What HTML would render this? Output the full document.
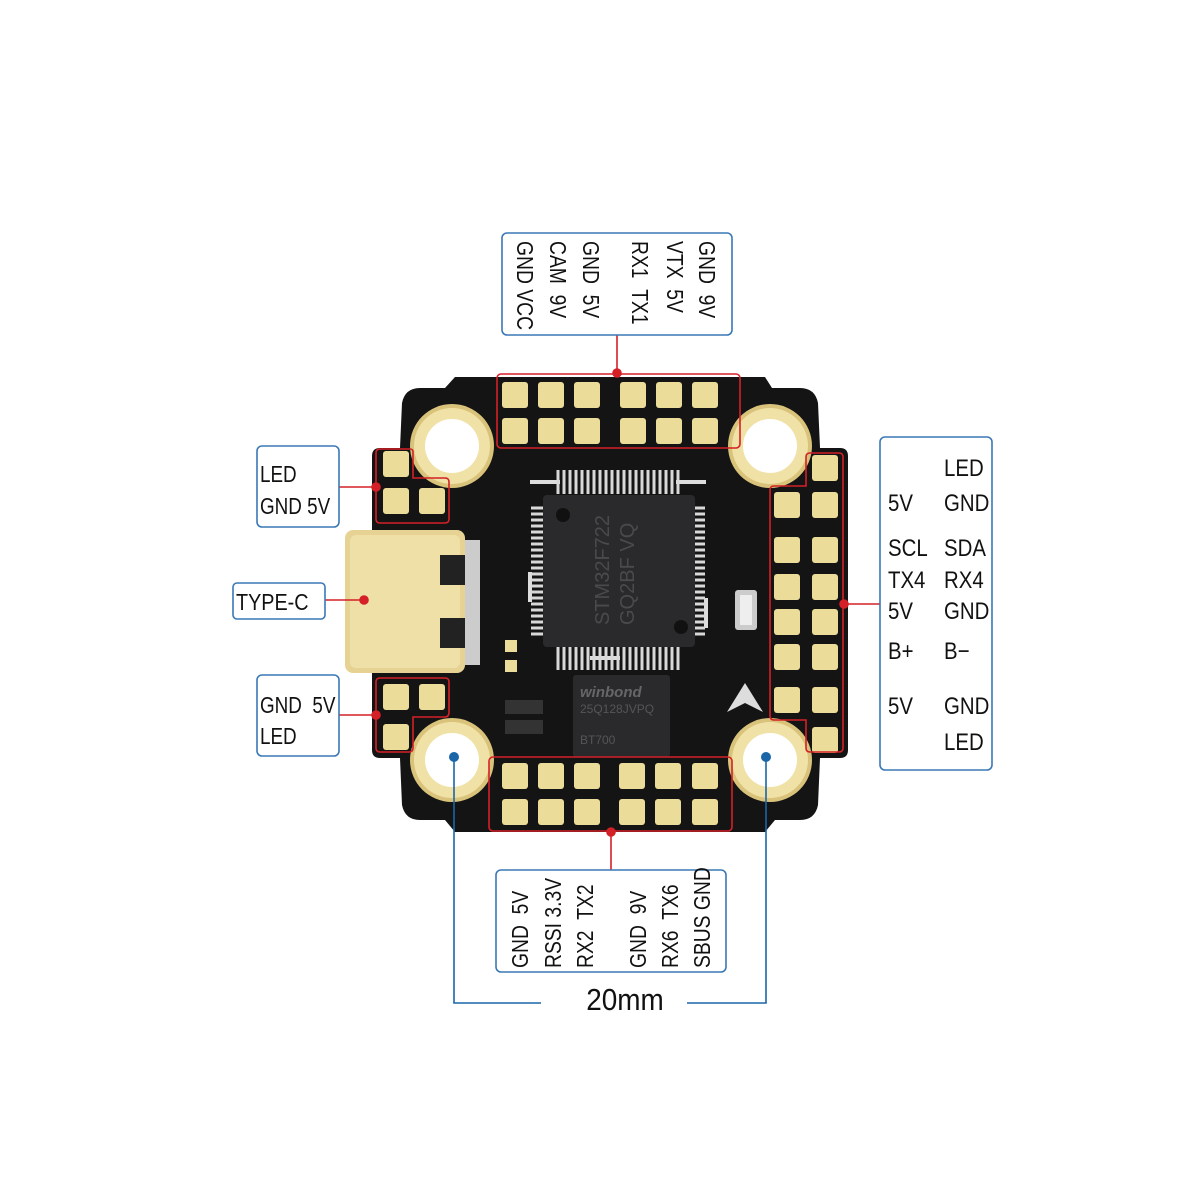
<!DOCTYPE html>
<html><head><meta charset="utf-8"><style>
html,body{margin:0;padding:0;background:#fff;}
svg{display:block}
text{font-family:"Liberation Sans",sans-serif;fill:#111;}
</style></head><body>
<svg width="1200" height="1200" viewBox="0 0 1200 1200" xmlns="http://www.w3.org/2000/svg">
<defs>
<g id="pad"><rect x="-13" y="-13" width="26" height="26" rx="3" fill="#ecdc9a"/></g>
<g id="hole"><circle r="42" fill="#d9c27a"/><circle r="38" fill="#f0e2a6"/><circle r="27" fill="#fff"/></g>
</defs>
<!-- board -->
<path d="M455 377 H765 L772 388 H800 Q815 388 818 403 L820 448 H840 Q848 448 848 456 V750 Q848 758 840 758 H820 L818 805 Q815 820 800 820 H775 L765 832 H455 L445 820 H420 Q405 820 402 805 L400 758 H380 Q372 758 372 750 V456 Q372 448 380 448 H400 L402 403 Q405 388 420 388 H445 Z" fill="#141414"/>
<use href="#hole" x="452" y="446"/><use href="#hole" x="770" y="446"/>
<use href="#hole" x="452" y="760"/><use href="#hole" x="770" y="760"/>
<!-- MCU -->
<rect x="530" y="482" width="176" height="176" fill="none" stroke="#ddd" stroke-width="4" stroke-dasharray="30 116"/>
<g stroke="#d8d8d8" stroke-width="3">
<path d="M558 470 V494 M564 470 V494 M570 470 V494 M576 470 V494 M582 470 V494 M588 470 V494 M594 470 V494 M600 470 V494 M606 470 V494 M612 470 V494 M618 470 V494 M624 470 V494 M630 470 V494 M636 470 V494 M642 470 V494 M648 470 V494 M654 470 V494 M660 470 V494 M666 470 V494 M672 470 V494 M678 470 V494"/>
<path d="M558 646 V670 M564 646 V670 M570 646 V670 M576 646 V670 M582 646 V670 M588 646 V670 M594 646 V670 M600 646 V670 M606 646 V670 M612 646 V670 M618 646 V670 M624 646 V670 M630 646 V670 M636 646 V670 M642 646 V670 M648 646 V670 M654 646 V670 M660 646 V670 M666 646 V670 M672 646 V670 M678 646 V670"/>
<path d="M531 508 H555 M531 514 H555 M531 520 H555 M531 526 H555 M531 532 H555 M531 538 H555 M531 544 H555 M531 550 H555 M531 556 H555 M531 562 H555 M531 568 H555 M531 574 H555 M531 580 H555 M531 586 H555 M531 592 H555 M531 598 H555 M531 604 H555 M531 610 H555 M531 616 H555 M531 622 H555 M531 628 H555 M531 634 H555"/>
<path d="M681 508 H705 M681 514 H705 M681 520 H705 M681 526 H705 M681 532 H705 M681 538 H705 M681 544 H705 M681 550 H705 M681 556 H705 M681 562 H705 M681 568 H705 M681 574 H705 M681 580 H705 M681 586 H705 M681 592 H705 M681 598 H705 M681 604 H705 M681 610 H705 M681 616 H705 M681 622 H705 M681 628 H705 M681 634 H705"/>
</g>
<rect x="543" y="495" width="152" height="152" rx="4" fill="#2a2a2c"/>
<circle cx="563" cy="515" r="7" fill="#111"/><circle cx="681" cy="627" r="7" fill="#111"/>
<g transform="rotate(-90 617 573)" font-size="20">
<text x="565" y="565" style="fill:#4a4a4c">STM32F722</text>
<text x="565" y="590" style="fill:#4a4a4c">GQ2BF VQ</text>
</g>
<!-- flash -->
<rect x="573" y="675" width="97" height="82" rx="3" fill="#2a2a2c"/>
<text x="580" y="697" font-size="15" font-style="italic" font-weight="bold" style="fill:#666">winbond</text>
<text x="580" y="713" font-size="12" style="fill:#555">25Q128JVPQ</text>
<text x="580" y="744" font-size="12" style="fill:#555">BT700</text>
<path d="M745 683 L727 712 L745 703 L763 712 Z" fill="#ddd"/>
<rect x="735" y="590" width="22" height="40" rx="3" fill="#ccc"/><rect x="740" y="595" width="12" height="30" fill="#eee"/>
<rect x="505" y="640" width="12" height="12" fill="#ecdc9a"/><rect x="505" y="660" width="12" height="12" fill="#ecdc9a"/>
<rect x="505" y="700" width="38" height="14" fill="#333"/><rect x="505" y="720" width="38" height="14" fill="#333"/>
<!-- USB-C -->
<rect x="455" y="540" width="25" height="125" fill="#ccc"/>
<rect x="345" y="530" width="120" height="143" rx="8" fill="#e6d393"/>
<rect x="350" y="535" width="110" height="133" rx="6" fill="#efe0a8"/>
<rect x="440" y="555" width="25" height="30" fill="#222"/><rect x="440" y="618" width="25" height="30" fill="#222"/>
<!-- pads -->
<g>
<use href="#pad" x="515" y="395"/><use href="#pad" x="551" y="395"/><use href="#pad" x="587" y="395"/><use href="#pad" x="633" y="395"/><use href="#pad" x="669" y="395"/><use href="#pad" x="705" y="395"/>
<use href="#pad" x="515" y="431"/><use href="#pad" x="551" y="431"/><use href="#pad" x="587" y="431"/><use href="#pad" x="633" y="431"/><use href="#pad" x="669" y="431"/><use href="#pad" x="705" y="431"/>
<use href="#pad" x="515" y="776"/><use href="#pad" x="551" y="776"/><use href="#pad" x="587" y="776"/><use href="#pad" x="632" y="776"/><use href="#pad" x="668" y="776"/><use href="#pad" x="705" y="776"/>
<use href="#pad" x="515" y="812"/><use href="#pad" x="551" y="812"/><use href="#pad" x="587" y="812"/><use href="#pad" x="632" y="812"/><use href="#pad" x="668" y="812"/><use href="#pad" x="705" y="812"/>
<use href="#pad" x="825" y="468"/>
<use href="#pad" x="787" y="505"/><use href="#pad" x="825" y="505"/>
<use href="#pad" x="787" y="550"/><use href="#pad" x="825" y="550"/>
<use href="#pad" x="787" y="587"/><use href="#pad" x="825" y="587"/>
<use href="#pad" x="787" y="622"/><use href="#pad" x="825" y="622"/>
<use href="#pad" x="787" y="657"/><use href="#pad" x="825" y="657"/>
<use href="#pad" x="787" y="700"/><use href="#pad" x="825" y="700"/>
<use href="#pad" x="825" y="740"/>
<use href="#pad" x="396" y="464"/><use href="#pad" x="396" y="501"/><use href="#pad" x="432" y="501"/>
<use href="#pad" x="396" y="697"/><use href="#pad" x="432" y="697"/><use href="#pad" x="396" y="737"/>
</g>
<!-- red outlines -->
<g fill="none" stroke="#d42027" stroke-width="1.6">
<rect x="497" y="374" width="243" height="74" rx="4"/>
<rect x="489" y="757" width="243" height="74" rx="4"/>
<path d="M380 449 H410 Q413 449 413 452 V478 H445 Q449 478 449 482 V519 Q449 523 445 523 H380 Q376 523 376 519 V453 Q376 449 380 449 Z"/>
<path d="M380 678 H445 Q449 678 449 682 V712 Q449 717 445 717 H413 V748 Q413 752 409 752 H380 Q376 752 376 748 V682 Q376 678 380 678 Z"/>
<path d="M810 453 H839 Q843 453 843 457 V748 Q843 752 839 752 H810 Q806 752 806 748 V720 H774 Q770 720 770 716 V490 Q770 486 774 486 H806 V457 Q806 453 810 453 Z"/>
</g>
<!-- red connectors -->
<g stroke="#d42027" stroke-width="1.6" fill="#d42027">
<line x1="617" y1="335" x2="617" y2="373"/><circle cx="617" cy="373" r="4"/>
<line x1="339" y1="487" x2="376" y2="487"/><circle cx="376" cy="487" r="4"/>
<line x1="325" y1="600" x2="364" y2="600"/><circle cx="364" cy="600" r="4"/>
<line x1="339" y1="715" x2="376" y2="715"/><circle cx="376" cy="715" r="4"/>
<line x1="843" y1="604" x2="880" y2="604"/><circle cx="844" cy="604" r="4"/>
<line x1="611" y1="832" x2="611" y2="870"/><circle cx="611" cy="832" r="4"/>
</g>
<!-- blue dimension -->
<g stroke="#1a66a8" stroke-width="1.6" fill="none">
<path d="M454 757 V1003 H541"/><path d="M766 757 V1003 H687"/>
</g>
<circle cx="454" cy="757" r="5" fill="#1a66a8"/><circle cx="766" cy="757" r="5" fill="#1a66a8"/>
<text x="625" y="1010" font-size="31" text-anchor="middle" transform="translate(625 0) scale(0.9 1) translate(-625 0)">20mm</text>
<!-- label boxes -->
<g fill="#fff" stroke="#3a78b5" stroke-width="1.6">
<rect x="502" y="233" width="230" height="102" rx="5"/>
<rect x="496" y="870" width="230" height="102" rx="5"/>
<rect x="257" y="446" width="82" height="81" rx="5"/>
<rect x="233" y="583" width="92" height="36" rx="4"/>
<rect x="257" y="675" width="82" height="81" rx="5"/>
<rect x="880" y="437" width="112" height="333" rx="5"/>
</g>
<g font-size="23">
<text transform="translate(517 241) rotate(90) scale(0.84 1)">GND&#160;VCC</text>
<text transform="translate(550 241) rotate(90) scale(0.84 1)">CAM&#160;&#160;9V</text>
<text transform="translate(583 241) rotate(90) scale(0.84 1)">GND&#160;&#160;5V</text>
<text transform="translate(632 241) rotate(90) scale(0.84 1)">RX1&#160;&#160;TX1</text>
<text transform="translate(667 241) rotate(90) scale(0.84 1)">VTX&#160;&#160;5V</text>
<text transform="translate(699 241) rotate(90) scale(0.84 1)">GND&#160;&#160;9V</text>
</g>
<g font-size="23">
<text transform="translate(528 968) rotate(-90) scale(0.84 1)">GND&#160;&#160;5V</text>
<text transform="translate(561 968) rotate(-90) scale(0.84 1)">RSSI 3.3V</text>
<text transform="translate(593 968) rotate(-90) scale(0.84 1)">RX2&#160;&#160;TX2</text>
<text transform="translate(646 968) rotate(-90) scale(0.84 1)">GND&#160;&#160;9V</text>
<text transform="translate(678 968) rotate(-90) scale(0.84 1)">RX6&#160;&#160;TX6</text>
<text transform="translate(710 968) rotate(-90) scale(0.84 1)">SBUS GND</text>
</g>
<g font-size="23">
<text transform="translate(260 482) scale(0.82 1)">LED</text>
<text transform="translate(260 514) scale(0.82 1)">GND 5V</text>
<text transform="translate(236 610) scale(0.86 1)">TYPE-C</text>
<text transform="translate(260 713) scale(0.82 1)">GND&#160;&#160;5V</text>
<text transform="translate(260 744) scale(0.82 1)">LED</text>
</g>
<g font-size="24">
<text transform="translate(944 476) scale(0.85 1)">LED</text>
<text transform="translate(888 511) scale(0.85 1)">5V</text><text transform="translate(944 511) scale(0.85 1)">GND</text>
<text transform="translate(888 556) scale(0.85 1)">SCL</text><text transform="translate(944 556) scale(0.85 1)">SDA</text>
<text transform="translate(888 588) scale(0.85 1)">TX4</text><text transform="translate(944 588) scale(0.85 1)">RX4</text>
<text transform="translate(888 619) scale(0.85 1)">5V</text><text transform="translate(944 619) scale(0.85 1)">GND</text>
<text transform="translate(888 659) scale(0.85 1)">B+</text><text transform="translate(944 659) scale(0.85 1)">B−</text>
<text transform="translate(888 714) scale(0.85 1)">5V</text><text transform="translate(944 714) scale(0.85 1)">GND</text>
<text transform="translate(944 750) scale(0.85 1)">LED</text>
</g>
</svg>
</body></html>
